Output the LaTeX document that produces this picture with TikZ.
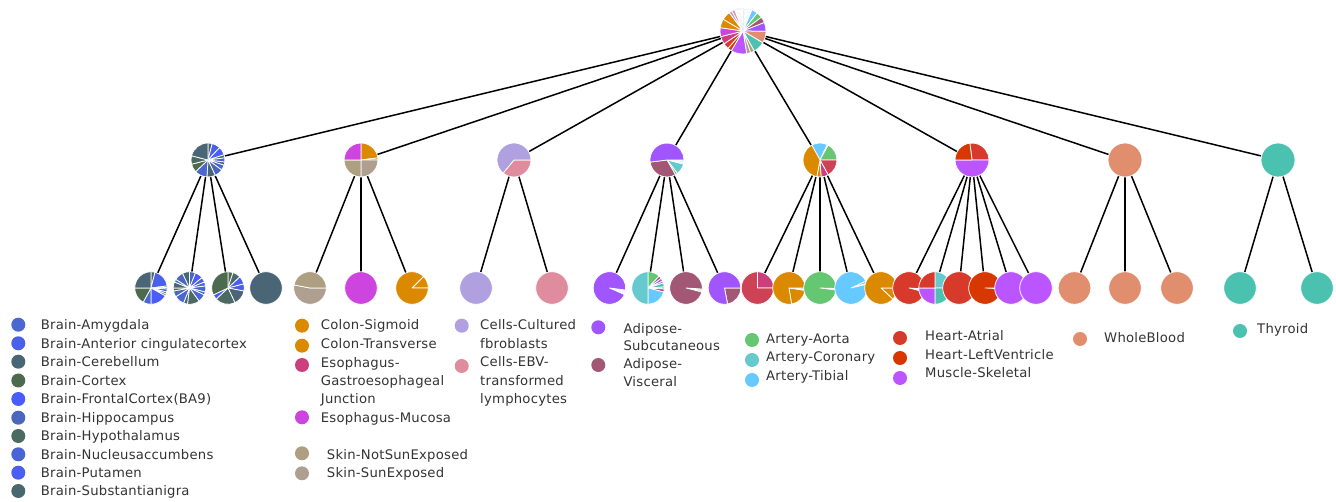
\documentclass[tikz,border=0pt]{standalone}
\usepackage{fontspec}
\setmainfont{DejaVu Sans}[LetterSpace=1.8]
\definecolor{amyg}{HTML}{4B67D1}
\definecolor{antc}{HTML}{4A5FEA}
\definecolor{cereb}{HTML}{4A6676}
\definecolor{cortex}{HTML}{4C6A4E}
\definecolor{front}{HTML}{4A5DFA}
\definecolor{hippo}{HTML}{4A67BD}
\definecolor{hypo}{HTML}{4A6A62}
\definecolor{nucl}{HTML}{4A64D3}
\definecolor{puta}{HTML}{4A5FF2}
\definecolor{subst}{HTML}{4A676E}
\definecolor{colon}{HTML}{DB8A00}
\definecolor{colontr}{HTML}{DB8A00}
\definecolor{esogj}{HTML}{CA3F7C}
\definecolor{esomuc}{HTML}{CD44DE}
\definecolor{skinnot}{HTML}{AE9F82}
\definecolor{skinsun}{HTML}{AE9F91}
\definecolor{fibro}{HTML}{B0A0E0}
\definecolor{ebv}{HTML}{E08C9F}
\definecolor{adisub}{HTML}{A055FF}
\definecolor{adivis}{HTML}{A25774}
\definecolor{aorta}{HTML}{66C773}
\definecolor{coron}{HTML}{66C9CD}
\definecolor{tibial}{HTML}{66C9FF}
\definecolor{atrial}{HTML}{D73A2A}
\definecolor{leftv}{HTML}{D73700}
\definecolor{muscle}{HTML}{BB55FF}
\definecolor{blood}{HTML}{E08E6E}
\definecolor{thyroid}{HTML}{4BC2AF}
\definecolor{crimson}{HTML}{CE4255}
\definecolor{legc}{HTML}{333333}
\newcommand\mypie[4]{%
  \xdef\pcum{#3}%
  \foreach \pcpct/\pccol in {#4}{%
    \pgfmathsetmacro\pcA{-90+3.6*\pcum}%
    \pgfmathsetmacro\pcB{-90+3.6*(\pcum+\pcpct)}%
    \fill[\pccol, draw=white, line width=0.75pt, line join=round] (#1.center) -- ++(\pcA:#2) arc[start angle=\pcA, end angle=\pcB, radius=#2] -- cycle;%
    \pgfmathsetmacro\pcT{\pcum+\pcpct}%
    \global\let\pcum\pcT
  }%
}
\newcommand\mysolid[3]{\fill[#3, draw=white, line width=0.75pt] (#1.center) circle[radius=#2];}
\begin{document}
\begin{tikzpicture}[x=1pt,y=-1pt,
  edge/.style={draw=black, line width=1.5pt},
  pnode/.style={circle, inner sep=0pt, minimum size=#1},
  legdot/.style={circle, inner sep=0pt, minimum size=14pt, draw=none},
  legtxt/.style={anchor=west, inner sep=0pt, text height=9.6pt, text depth=0pt, text=legc, font=\fontsize{13.2}{16}\selectfont}]
\useasboundingbox (0,0) rectangle (1336,502);
% nodes
\node[pnode=46pt] (root) at (743,31) {};
\foreach \n/\x in {m1/208, m2/361, m3/514, m4/667, m5/820, m6/972, m7/1125, m8/1278}
  \node[pnode=34pt] (\n) at (\x,160) {};
\foreach \n/\x in {b1/151, b2/189.5, b3/228, b4/266, c1/310, c2/361, c3/412, d1/476, d2/552,
  a1/609.5, a2/648, a3/686, a4/724.5, e1/757.5, e2/789, e3/820, e4/851, e5/881,
  f1/909, f2/935, f3/959, f4/985, f5/1011, f6/1036, g1/1074.5, g2/1125, g3/1177, t1/1240, t2/1317}
  \node[pnode=33pt] (\n) at (\x,288) {};
% edges
\foreach \m in {m1,m2,m3,m4,m5,m6,m7,m8} \draw[edge] (root.center) -- (\m.center);
\foreach \c in {b1,b2,b3,b4} \draw[edge] (m1.center) -- (\c.center);
\foreach \c in {c1,c2,c3} \draw[edge] (m2.center) -- (\c.center);
\foreach \c in {d1,d2} \draw[edge] (m3.center) -- (\c.center);
\foreach \c in {a1,a2,a3,a4} \draw[edge] (m4.center) -- (\c.center);
\foreach \c in {e1,e2,e3,e4,e5} \draw[edge] (m5.center) -- (\c.center);
\foreach \c in {f1,f2,f3,f4,f5,f6} \draw[edge] (m6.center) -- (\c.center);
\foreach \c in {g1,g2,g3} \draw[edge] (m7.center) -- (\c.center);
\foreach \c in {t1,t2} \draw[edge] (m8.center) -- (\c.center);
% root pie
\mypie{root}{23}{0}{.8/cereb,.8/hippo,.8/front,.8/tibial,.8/aorta,.8/coron,.8/tibial,.8/adivis,
  4.2/tibial,4.2/aorta,4.2/adivis,6.25/adisub,8.3/blood,8.3/thyroid,2.8/skinnot,2.8/skinsun,11.1/muscle,
  2.8/leftv,4.2/atrial,5.5/esogj,6.25/esomuc,6.25/colon,6.25/colontr,2.1/fibro,2.1/ebv,
  .75/amyg,.75/antc,.75/cereb,.75/cortex,.75/front,.75/hippo,.75/hypo,.75/nucl}
% middle pies
\mypie{m1}{17}{0}{4/cereb,8/antc,8/front,3/hypo,4/puta,3/subst,5/nucl,8/hippo,8/cereb,12/amyg,8/cortex,8/hypo,21/cereb}
\mypie{m2}{17}{0}{23/colon,2/colontr,25/skinsun,25/skinnot,25/esomuc}
\mypie{m3}{17}{25}{36/ebv,64/fibro}
\mypie{m4}{17}{25}{1.3/tibial,1.3/coron,1.4/tibial,10.5/coron,2.2/aorta,31.3/adivis,52/adisub}
\mypie{m5}{17}{-8}{15/tibial,1/aorta,17/aorta,17/crimson,7/esogj,4/colon,39/colontr}
\mypie{m6}{17}{-2}{27/atrial,50/muscle,23/leftv}
\mysolid{m7}{17}{blood}
\mysolid{m8}{17}{thyroid}
% bottom pies
\mypie{b1}{16.3}{0}{4/cereb,19/antc,1.5/subst,1.5/puta,3/hippo,2/hypo,2/nucl,17/front,8/amyg,17/cortex,25/cereb}
\mypie{b2}{16.3}{0}{6/hippo,8/front,5/antc,4/puta,6/nucl,3/hippo,8/amyg,12/hypo,4/cereb,10/amyg,6/hippo,3/cortex,6/subst,3/amyg,9/hippo,7/cereb}
\mypie{b3}{16.3}{0}{5/cortex,8/hypo,8/front,7/antc,15/cereb,20/hypo,5/front,32/cortex}
\mysolid{b4}{16.3}{cereb}
\mypie{c1}{16.3}{25}{53/skinsun,47/skinnot}
\mysolid{c2}{16.3}{esomuc}
\mypie{c3}{16.3}{12.5}{12.5/colontr,87.5/colon}
\mysolid{d1}{16.3}{fibro}
\mysolid{d2}{16.3}{ebv}
\mypie{a1}{16.3}{27}{1.2/esogj,1.2/skinnot,1.2/aorta,1/coron,95.4/adisub}
\mypie{a2}{16.3}{0}{12/aorta,3/adivis,3/adisub,2/muscle,4/thyroid,2/coron,3/esogj,21/tibial,50/coron}
\mypie{a3}{16.3}{26}{1.5/coron,1.5/aorta,97/adivis}
\mypie{a4}{16.3}{25}{22/adivis,78/adisub}
\mypie{e1}{16.3}{0}{25/esogj,75/crimson}
\mypie{e2}{16.3}{25}{1.5/esogj,1/colon,20/colontr,77.5/colon}
\mypie{e3}{16.3}{25.5}{1.5/coron,98.5/aorta}
\mypie{e4}{16.3}{18}{2.5/coron,0.8/aorta,96.7/tibial}
\mypie{e5}{16.3}{25}{12/colontr,88/colon}
\mypie{f1}{16.3}{26}{1.5/muscle,1.5/esogj,97/atrial}
\mypie{f2}{16.3}{0}{25/coron,25/thyroid,25/muscle,25/atrial}
\mysolid{f3}{16.3}{atrial}
\mypie{f4}{16.3}{25}{0.8/leftv,99.2/leftv}
\mysolid{f5}{16.3}{muscle}
\mysolid{f6}{16.3}{muscle}
\mysolid{g1}{16.3}{blood}
\mysolid{g2}{16.3}{blood}
\mysolid{g3}{16.3}{blood}
\mysolid{t1}{16.3}{thyroid}
\mysolid{t2}{16.3}{thyroid}
% legend column 1
\foreach \i/\col/\y/\txt in {1/amyg/324.7/Brain-Amygdala, 2/antc/343.3/Brain-Anterior cingulatecortex,
  3/cereb/361.7/Brain-Cerebellum, 4/cortex/380.5/Brain-Cortex, 5/front/399/Brain-FrontalCortex(BA9),
  6/hippo/417.7/Brain-Hippocampus, 7/hypo/436/Brain-Hypothalamus, 8/nucl/454.3/Brain-Nucleusaccumbens,
  9/puta/472.7/Brain-Putamen, 10/subst/491/Brain-Substantianigra}{
  \node[legdot, fill=\col] (ld\i) at (18.3,\y) {};
  \node[legtxt] (lt\i) at (40.7,\y) {\txt};
}
% legend column 2
\node[legdot, fill=colon] (ldc1) at (302,325.7) {};
\node[legtxt] (ltc1) at (320.7,324.7) {Colon-Sigmoid};
\node[legdot, fill=colontr] (ldc2) at (302,345.7) {};
\node[legtxt] (ltc2) at (320.7,343.7) {Colon-Transverse};
\node[legdot, fill=esogj] (ldc3) at (302,365) {};
\node[legtxt] (ltc3a) at (320.7,362.3) {Esophagus-};
\node[legtxt] (ltc3b) at (320.7,380.7) {Gastroesophageal};
\node[legtxt] (ltc3c) at (320.7,398.7) {Junction};
\node[legdot, fill=esomuc] (ldc4) at (302,417.3) {};
\node[legtxt] (ltc4) at (320.7,417.3) {Esophagus-Mucosa};
\node[legdot, fill=skinnot] (ldc5) at (302,453.3) {};
\node[legtxt] (ltc5) at (326.7,454.7) {Skin-NotSunExposed};
\node[legdot, fill=skinsun] (ldc6) at (302,473.3) {};
\node[legtxt] (ltc6) at (326.7,472.7) {Skin-SunExposed};
% legend column 3
\node[legdot, fill=fibro] (ldd1) at (461.7,325.7) {};
\node[legtxt] (ltd1a) at (480,324.7) {Cells-Cultured};
\node[legtxt] (ltd1b) at (480,343.3) {fbroblasts};
\node[legdot, fill=ebv] (ldd2) at (461.7,366) {};
\node[legtxt] (ltd2a) at (480,362) {Cells-EBV-};
\node[legtxt] (ltd2b) at (480,380.3) {transformed};
\node[legtxt] (ltd2c) at (480,398.3) {lymphocytes};
% legend column 4
\node[legdot, fill=adisub] (lda1) at (598.3,327.3) {};
\node[legtxt] (lta1a) at (623.3,328.3) {Adipose-};
\node[legtxt] (lta1b) at (623.3,346) {Subcutaneous};
\node[legdot, fill=adivis] (lda2) at (598.3,365) {};
\node[legtxt] (lta2a) at (623.3,363.3) {Adipose-};
\node[legtxt] (lta2b) at (623.3,381.7) {Visceral};
% legend column 5
\node[legdot, fill=aorta] (lde1) at (752,340) {};
\node[legtxt] (lte1) at (766,338.5) {Artery-Aorta};
\node[legdot, fill=coron] (lde2) at (752,360) {};
\node[legtxt] (lte2) at (766,357) {Artery-Coronary};
\node[legdot, fill=tibial] (lde3) at (752,380) {};
\node[legtxt] (lte3) at (766,375.5) {Artery-Tibial};
% legend column 6
\node[legdot, fill=atrial] (ldf1) at (900,338) {};
\node[legtxt] (ltf1) at (925,336) {Heart-Atrial};
\node[legdot, fill=leftv] (ldf2) at (900,358) {};
\node[legtxt] (ltf2) at (925,355) {Heart-LeftVentricle};
\node[legdot, fill=muscle] (ldf3) at (900,378) {};
\node[legtxt] (ltf3) at (925,373) {Muscle-Skeletal};
% legend columns 7, 8
\node[legdot, fill=blood] (ldg1) at (1080,339) {};
\node[legtxt] (ltg1) at (1104,338) {WholeBlood};
\node[legdot, fill=thyroid] (ldt1) at (1240,331) {};
\node[legtxt] (ltt1) at (1257,328.5) {Thyroid};
\end{tikzpicture}
\end{document}
